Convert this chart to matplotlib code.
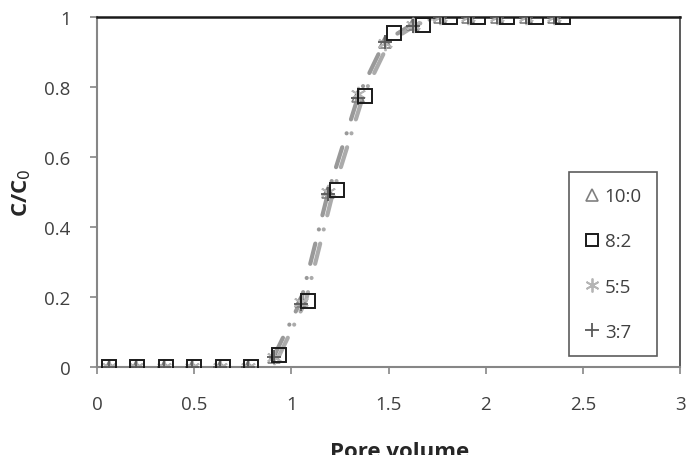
import matplotlib
matplotlib.use("Agg")
import matplotlib.pyplot as plt
from matplotlib.lines import Line2D

plt.rcParams['font.family'] = ['Open Sans', 'DejaVu Sans']

# Data
labels = ["10:0", "8:2", "5:5", "3:7"]

x_82 = [0.06, 0.207, 0.353, 0.50, 0.646, 0.792, 0.936, 1.085, 1.235, 1.38, 1.53, 1.675, 1.815, 1.96, 2.11, 2.26, 2.40]
y_82 = [0, 0, 0, 0, 0, 0, 0.033, 0.19, 0.505, 0.775, 0.955, 0.977, 1, 1, 1, 1, 1]

x_other = [0.06, 0.203, 0.347, 0.49, 0.633, 0.776, 0.91, 1.05, 1.19, 1.345, 1.48, 1.625, 1.765, 1.91, 2.06, 2.21, 2.35]
y_100 = [0, 0, 0, 0, 0, 0, 0.03, 0.19, 0.50, 0.775, 0.93, 0.98, 1, 1, 1, 1, 1]
y_55 = [0, 0, 0, 0, 0, 0, 0.03, 0.185, 0.50, 0.78, 0.925, 0.978, 1, 1, 1, 1, 1]
y_37 = [0, 0, 0, 0, 0, 0, 0.028, 0.18, 0.495, 0.77, 0.93, 0.975, 1, 1, 1, 1, 1]

# model-fit curves (dash-dot) drawn through the measurement points
fit_x1 = [0.91, 1.05, 1.19, 1.345, 1.48, 1.625, 1.765]
fit_y1 = [0.03, 0.19, 0.50, 0.775, 0.93, 0.98, 1.0]
fit_x2 = [0.935, 1.075, 1.215, 1.37, 1.505, 1.65, 1.79]
fit_y2 = [0.03, 0.19, 0.50, 0.775, 0.93, 0.98, 1.0]

xticks = [0, 0.5, 1, 1.5, 2, 2.5, 3]
xticklabels = ["0", "0.5", "1", "1.5", "2", "2.5", "3"]
yticks = [0, 0.2, 0.4, 0.6, 0.8, 1]
yticklabels = ["0", "0.2", "0.4", "0.6", "0.8", "1"]

fig = plt.figure(figsize=(6.92, 4.56), dpi=100)
ax = fig.add_axes([97/692, 1-368/456, (680-97)/692, (368-18)/456])

ls_fit = (0, (5, 3.5, 0.01, 3.5))
ax.plot(fit_x1, fit_y1, color='#999999', lw=3, linestyle=ls_fit, dash_capstyle='round', zorder=2)
ax.plot(fit_x2, fit_y2, color='#ababab', lw=3, linestyle=ls_fit, dash_capstyle='round', zorder=2)

ax.plot(x_other, y_100, linestyle='none', marker='^', ms=8, mfc='none', mec='#7f7f7f', mew=1.2, zorder=3)
ax.plot(x_other, y_55, linestyle='none', marker=(6, 2, 0), ms=11, mec='#b5b5b5', mew=1.3, zorder=3)
ax.plot(x_other, y_37, linestyle='none', marker='+', ms=10, mec='#595959', mew=1.3, zorder=4)
ax.plot(x_82, y_82, linestyle='none', marker='s', ms=9.5, mfc='none', mec='#1a1a1a', mew=1.4, zorder=5)

ax.set_xlim(0, 3)
ax.set_ylim(0, 1)
ax.set_xticks(xticks)
ax.set_xticklabels(xticklabels)
ax.set_yticks(yticks)
ax.set_yticklabels(yticklabels)
ax.tick_params(axis='both', labelsize=13.5, colors='#868686', labelcolor='#404040', length=5, width=1.2, direction='out')
ax.tick_params(axis='x', pad=15)
ax.tick_params(axis='y', pad=14)

for s in ['left', 'bottom']:
    ax.spines[s].set_color('#868686')
    ax.spines[s].set_linewidth(1.5)
ax.spines['top'].set_color('#1a1a1a')
ax.spines['top'].set_linewidth(1.8)
ax.spines['right'].set_color('#404040')
ax.spines['right'].set_linewidth(1.2)
ax.spines['bottom'].set_zorder(2.5)

ax.set_ylabel("C/C$_0$", fontsize=16, fontweight='bold', color='#262626', labelpad=8)
fig.text(400/692, 1-453/456, "Pore volume", fontsize=16, fontweight='bold', color='#262626',
         ha='center', va='center')

handles = [
    Line2D([], [], linestyle='none', marker='^', ms=8, mfc='none', mec='#7f7f7f', mew=1.2),
    Line2D([], [], linestyle='none', marker='s', ms=9, mfc='none', mec='#1a1a1a', mew=1.4),
    Line2D([], [], linestyle='none', marker=(6, 2, 0), ms=10, mec='#b5b5b5', mew=1.3),
    Line2D([], [], linestyle='none', marker='+', ms=10, mec='#595959', mew=1.3),
]
leg = fig.legend(handles, labels, loc='center', bbox_to_anchor=(613/692, 1-265/456),
                 fontsize=13.5, frameon=True, fancybox=False, labelspacing=1.45,
                 handlelength=0.8, handletextpad=0.3, borderpad=0.8, borderaxespad=0)
leg.get_frame().set_edgecolor('#333333')
leg.get_frame().set_linewidth(1.2)
for t in leg.get_texts():
    t.set_color('#404040')

fig.savefig("out.png", dpi=100)
